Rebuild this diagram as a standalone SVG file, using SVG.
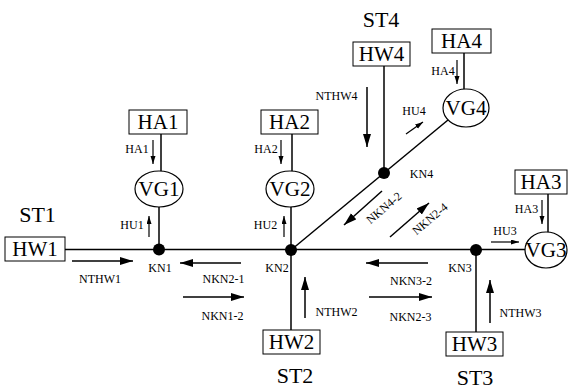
<svg xmlns="http://www.w3.org/2000/svg" width="569" height="390" viewBox="0 0 569 390" font-family="'Liberation Serif', 'DejaVu Serif', serif">
<style>
.bl,.st,.lb{font-family:'Liberation Serif','DejaVu Serif',serif;fill:#000}
.box{fill:#fff;stroke:#000;stroke-width:1}
.bl{font-size:21px;text-anchor:middle}
.st{font-size:22px;text-anchor:middle}
.lb{font-size:12px;text-anchor:middle}
.ln{stroke:#000;stroke-width:1.5;fill:none}
.ell{fill:#fff;stroke:#000;stroke-width:1.2}
.big{stroke:#000;stroke-width:1.5;fill:none;marker-end:url(#ab)}
.sm{stroke:#000;stroke-width:1.2;fill:none;marker-end:url(#as)}
</style>
<defs>
<marker id="ab" markerUnits="userSpaceOnUse" markerWidth="14" markerHeight="10" refX="13" refY="4" orient="auto"><path d="M0,0 L13,4 L0,8 z" fill="#000"/></marker>
<marker id="as" markerUnits="userSpaceOnUse" markerWidth="9" markerHeight="7" refX="8" refY="2.5" orient="auto"><path d="M0,0 L8,2.5 L0,5 z" fill="#000"/></marker>
</defs>
<rect width="569" height="390" fill="#fff"/>
<g id="connectors">
<line class="ln" x1="65" y1="249.5" x2="525" y2="249.5"/>
<line class="ln" x1="159" y1="207" x2="159" y2="249"/>
<line class="ln" x1="161" y1="134" x2="161" y2="171"/>
<line class="ln" x1="291" y1="207" x2="291" y2="250"/>
<line class="ln" x1="292" y1="134" x2="292" y2="171"/>
<line class="ln" x1="291" y1="250" x2="291" y2="330"/>
<line class="ln" x1="476" y1="250" x2="476" y2="332"/>
<line class="ln" x1="548" y1="194" x2="548" y2="232"/>
<line class="ln" x1="291" y1="250" x2="448" y2="120"/>
<line class="ln" x1="384" y1="66" x2="384" y2="173"/>
<line class="ln" x1="464" y1="53" x2="464" y2="89"/>
</g>
<g id="flows">
<line class="sm" x1="153" y1="140" x2="153" y2="164"/>
<line class="sm" x1="281" y1="140" x2="281" y2="164"/>
<line class="sm" x1="542" y1="200" x2="542" y2="224"/>
<line class="sm" x1="457" y1="60" x2="457" y2="84"/>
<line class="sm" x1="149" y1="237" x2="149" y2="216"/>
<line class="sm" x1="284" y1="237" x2="284" y2="216"/>
<line class="sm" x1="491" y1="242" x2="519" y2="242"/>
<line class="sm" x1="406" y1="134" x2="423" y2="122"/>
<line class="big" x1="72" y1="261" x2="133" y2="261"/>
<line class="big" x1="241" y1="263" x2="180" y2="263"/>
<line class="big" x1="183" y1="297" x2="244" y2="297"/>
<line class="big" x1="305" y1="318" x2="305" y2="277"/>
<line class="big" x1="428" y1="263" x2="366" y2="263"/>
<line class="big" x1="369" y1="297" x2="432" y2="297"/>
<line class="big" x1="490" y1="323" x2="490" y2="280"/>
<line class="big" x1="367" y1="87" x2="367" y2="147"/>
<line class="big" x1="382" y1="191" x2="344" y2="225"/>
<line class="big" x1="390" y1="237" x2="429" y2="203"/>
</g>
<g id="HW1"><rect class="box" x="5" y="237" width="60" height="24"/><text class="bl" x="35" y="256">HW1</text></g>
<g id="HW2"><rect class="box" x="263" y="330" width="57" height="24"/><text class="bl" x="291.5" y="349">HW2</text></g>
<g id="HW3"><rect class="box" x="446" y="332" width="57" height="24"/><text class="bl" x="474.5" y="351">HW3</text></g>
<g id="HW4"><rect class="box" x="353" y="42" width="57" height="24"/><text class="bl" x="381.5" y="61">HW4</text></g>
<g id="HA1"><rect class="box" x="129" y="110" width="58" height="24"/><text class="bl" x="158" y="129">HA1</text></g>
<g id="HA2"><rect class="box" x="261" y="110" width="57" height="24"/><text class="bl" x="289.5" y="129">HA2</text></g>
<g id="HA3"><rect class="box" x="515" y="170" width="52" height="24"/><text class="bl" x="541" y="189">HA3</text></g>
<g id="HA4"><rect class="box" x="432" y="29" width="59" height="24"/><text class="bl" x="461.5" y="48">HA4</text></g>
<g id="VG1"><ellipse class="ell" cx="159" cy="189" rx="24" ry="18"/><text class="bl" x="159" y="196">VG1</text></g>
<g id="VG2"><ellipse class="ell" cx="290" cy="189" rx="24" ry="18"/><text class="bl" x="290" y="196">VG2</text></g>
<g id="VG3"><ellipse class="ell" cx="546" cy="250" rx="21" ry="18"/><text class="bl" x="546" y="257">VG3</text></g>
<g id="VG4"><ellipse class="ell" cx="466" cy="108" rx="23" ry="19"/><text class="bl" x="466" y="115">VG4</text></g>
<g id="KN1"><circle cx="159" cy="249.5" r="6"/><text class="lb" x="160" y="272">KN1</text></g>
<g id="KN2"><circle cx="291" cy="250" r="6"/><text class="lb" x="277" y="272">KN2</text></g>
<g id="KN3"><circle cx="476" cy="250" r="6"/><text class="lb" x="460" y="272">KN3</text></g>
<g id="KN4"><circle cx="384" cy="173" r="6"/><text class="lb" x="421.5" y="178">KN4</text></g>
<g id="labels">
<text class="st" x="37.5" y="222">ST1</text>
<text class="st" x="295" y="383">ST2</text>
<text class="st" x="475" y="385">ST3</text>
<text class="st" x="381" y="27">ST4</text>
<text class="lb" x="137" y="153">HA1</text>
<text class="lb" x="266" y="153">HA2</text>
<text class="lb" x="526.5" y="213">HA3</text>
<text class="lb" x="443" y="75">HA4</text>
<text class="lb" x="132" y="229">HU1</text>
<text class="lb" x="265.5" y="229">HU2</text>
<text class="lb" x="505" y="235">HU3</text>
<text class="lb" x="414" y="115">HU4</text>
<text class="lb" x="100" y="283">NTHW1</text>
<text class="lb" x="223.5" y="283">NKN2-1</text>
<text class="lb" x="222.5" y="320">NKN1-2</text>
<text class="lb" x="336.5" y="316">NTHW2</text>
<text class="lb" x="411" y="285">NKN3-2</text>
<text class="lb" x="410.5" y="321">NKN2-3</text>
<text class="lb" x="520.5" y="317">NTHW3</text>
<text class="lb" x="336.5" y="100">NTHW4</text>
<text class="lb" transform="translate(386.5,211) rotate(-40)">NKN4-2</text>
<text class="lb" transform="translate(432.5,222) rotate(-40)">NKN2-4</text>
</g>
</svg>
